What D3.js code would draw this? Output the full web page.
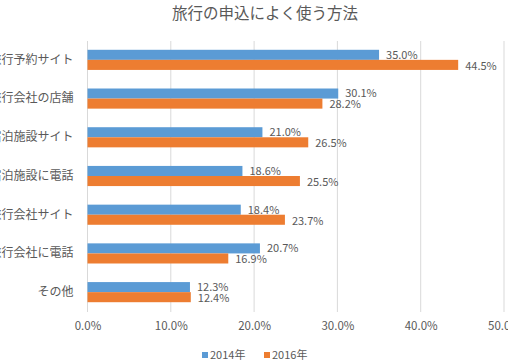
<!DOCTYPE html>
<html><head><meta charset="utf-8">
<script src="https://cdn.jsdelivr.net/npm/d3@7"></script>
<style>body{margin:0;background:#fff;overflow:hidden}svg{display:block}</style>
</head><body>
<script>
const categories = ["旅行予約サイト","旅行会社の店舗","宿泊施設サイト","宿泊施設に電話","旅行会社サイト","旅行会社に電話","その他"];
const series = ["2014年","2016年"];
const values2014 = [35.0,30.1,21.0,18.6,18.4,20.7,12.3];
const values2016 = [44.5,28.2,26.5,25.5,23.7,16.9,12.4];
const xTicks = [0,10,20,30,40,50];
const colors = ["#5B9BD5","#ED7D31"];

const W=508,H=360;
const svg=d3.select("body").append("svg").attr("width",W).attr("height",H);
const font="'Noto Sans CJK JP','Noto Sans',sans-serif";
const x=d3.scaleLinear().domain([0,50]).range([87.5,504]);
const y=d3.scaleBand().domain(categories).range([40.5,311.5]).paddingInner(0.48).paddingOuter(0.24);
const y2=d3.scaleBand().domain(series).range([0,y.bandwidth()]);

svg.append("text").attr("x",265).attr("y",19).attr("text-anchor","middle")
  .attr("font-family",font).attr("font-size",15.5).attr("fill","#595959").text("旅行の申込によく使う方法");

const grid=svg.append("g");
grid.selectAll("line").data(xTicks).join("line")
  .attr("x1",d=>x(d)).attr("x2",d=>x(d)).attr("y1",41).attr("y2",312)
  .attr("stroke","#d9d9d9").attr("stroke-width",1);

const xAxis=d3.axisBottom(x).tickValues(xTicks).tickSize(0).tickPadding(0).tickFormat(d=>d.toFixed(1)+"%");
const gx=svg.append("g").attr("transform","translate(0,322)").call(xAxis);
gx.select(".domain").remove();
gx.selectAll("text").attr("font-family",font).attr("font-size",11.5).attr("fill","#595959").attr("dy","0.71em");

const yAxis=d3.axisLeft(y).tickSize(0).tickPadding(14);
const gy=svg.append("g").attr("transform","translate(87.5,0)").call(yAxis);
gy.select(".domain").remove();
gy.selectAll("text").attr("font-family",font).attr("font-size",12).attr("fill","#595959");

const rows=categories.map((c,i)=>({c,vals:[values2014[i],values2016[i]]}));
const g=svg.append("g");
rows.forEach(r=>{
  r.vals.forEach((v,j)=>{
    const yy=y(r.c)+y2(series[j]);
    g.append("rect").attr("x",x(0)).attr("y",yy).attr("width",x(v)-x(0)).attr("height",y2.bandwidth())
      .attr("fill",colors[j]);
    g.append("text").attr("x",x(v)+7).attr("y",yy+y2.bandwidth()/2+(j===0?0:1)).attr("dy","0.35em")
      .attr("font-family",font).attr("font-size",11).attr("fill","#595959").text(v.toFixed(1)+"%");
  });
});

const leg=svg.append("g");
const lx=[202,264];
series.forEach((s,j)=>{
  leg.append("rect").attr("x",lx[j]).attr("y",352).attr("width",6).attr("height",6).attr("fill",colors[j]);
  leg.append("text").attr("x",lx[j]+8).attr("y",355).attr("dy","0.35em")
    .attr("font-family",font).attr("font-size",11).attr("fill","#595959").text(s);
});
</script>
</body></html>
